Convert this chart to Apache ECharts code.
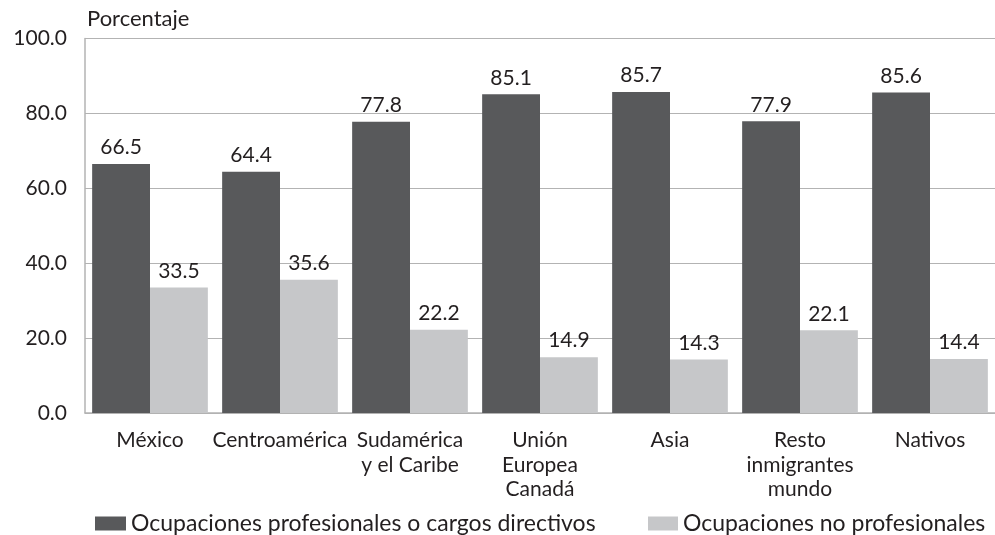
<!DOCTYPE html>
<html>
<head>
<meta charset="utf-8">
<script src="https://cdn.jsdelivr.net/npm/echarts@6/dist/echarts.min.js"></script>
<style>
  html, body { margin: 0; padding: 0; background: #fff; }
  #chart { width: 995px; height: 535px; }
</style>
</head>
<body>
<div id="chart"></div>
<script>
// categories and values
const categories = ['México', 'Centroamérica', 'Sudamérica\ny el Caribe', 'Unión\nEuropea\nCanadá', 'Asia', 'Resto\ninmigrantes\nmundo', 'Nativos'];
const profesionales = [66.5, 64.4, 77.8, 85.1, 85.7, 77.9, 85.6];
const noProfesionales = [33.5, 35.6, 22.2, 14.9, 14.3, 22.1, 14.4];
const seriesNames = ['Ocupaciones profesionales o cargos directivos', 'Ocupaciones no profesionales'];

const FONT = 'Lato, "Open Sans", sans-serif';
const TEXT = '#231f20';

const chart = echarts.init(document.getElementById('chart'));

const barLabel = {
  show: true,
  position: 'top',
  distance: 6,
  color: TEXT,
  fontFamily: FONT,
  fontSize: 21,
  formatter: (p) => p.value.toFixed(1),
};

const legendText = { fontFamily: FONT, fontSize: 23, color: TEXT };

chart.setOption({
  animation: false,
  backgroundColor: '#fff',
  title: {
    text: 'Porcentaje',
    left: 82,
    top: 3,
    textStyle: { fontFamily: FONT, fontSize: 22, fontWeight: 'normal', color: TEXT },
  },
  legend: [
    {
      data: [seriesNames[0]],
      left: 95,
      top: 507,
      padding: [5, 5, 5, 0],
      itemWidth: 31,
      itemHeight: 14,
      icon: 'rect',
      textStyle: legendText,
    },
    {
      data: [seriesNames[1]],
      left: 648,
      top: 507,
      padding: [5, 5, 5, 0],
      itemWidth: 30,
      itemHeight: 14,
      icon: 'rect',
      textStyle: legendText,
    },
  ],
  grid: { left: 85, top: 38.5, width: 915, bottom: 122 },
  xAxis: {
    type: 'category',
    data: categories,
    axisLine: { lineStyle: { color: '#b3b3b3', width: 1.5 } },
    axisTick: { show: false },
    axisLabel: {
      color: TEXT,
      fontFamily: FONT,
      fontSize: 21,
      lineHeight: 24.5,
      margin: 15,
      interval: 0,
    },
  },
  yAxis: {
    type: 'value',
    min: 0,
    max: 100,
    interval: 20,
    axisLine: { show: true, lineStyle: { color: '#b3b3b3', width: 1.5 } },
    axisTick: { show: false },
    splitLine: { lineStyle: { color: '#b3b3b3', width: 1 } },
    axisLabel: {
      color: TEXT,
      fontFamily: FONT,
      fontSize: 21,
      margin: 18,
      formatter: (v) => v.toFixed(1),
    },
  },
  series: [
    {
      name: seriesNames[0],
      type: 'bar',
      data: profesionales,
      barGap: '0%',
      barCategoryGap: '11%',
      itemStyle: { color: '#58595b' },
      label: barLabel,
    },
    {
      name: seriesNames[1],
      type: 'bar',
      data: noProfesionales,
      itemStyle: { color: '#c6c7c9' },
      label: barLabel,
    },
  ],
});
</script>
</body>
</html>
